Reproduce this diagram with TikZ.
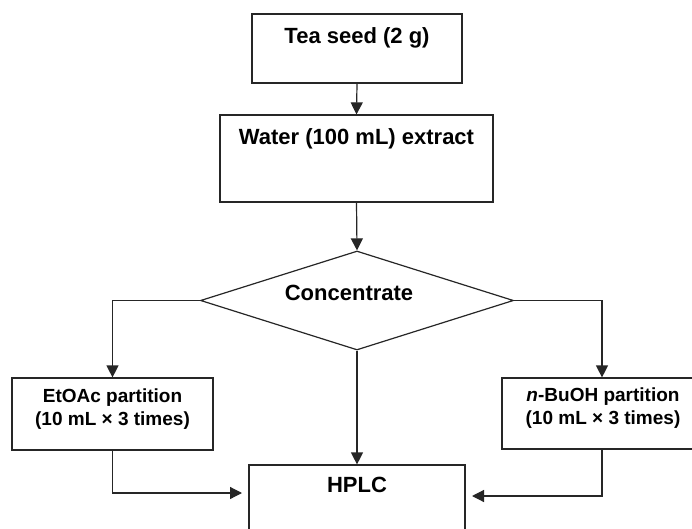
\documentclass[tikz,border=0pt]{standalone}
\usepackage{fontspec}
\setmainfont{Liberation Sans}
\usetikzlibrary{arrows.meta,shapes.geometric}
\begin{document}
\begin{tikzpicture}[x=1pt,y=-1pt,
  line width=1.2pt,
  box/.style={draw=black!85,rectangle,inner sep=0pt},
  lbl/.style={font=\bfseries\fontsize{22}{26}\selectfont,inner sep=0pt,text height=0.73em,text depth=0.21em},
  lblsmall/.style={font=\bfseries\fontsize{19}{23}\selectfont,inner sep=0pt,align=center},
  arr/.style={draw=black!85,-{Triangle[width=12pt,length=12pt]}}]
\clip (0,0) rectangle (692,529);
\fill[white] (0,0) rectangle (692,529);
% boxes
\node[box,minimum width=210pt,minimum height=69pt] (tea) at (357,48.5) {};
\node[lbl] (tealbl) at (357,41) {Tea seed (2 g)};
\node[box,minimum width=273pt,minimum height=87pt] (water) at (356.5,158.5) {};
\node[lbl] (waterlbl) at (356.5,141.5) {Water (100 mL) extract};
\node[diamond,draw=black!85,inner sep=0pt,minimum width=313pt,minimum height=99pt,aspect=3.16] (conc) at (357,300.5) {};
\node[lbl] (conclbl) at (349,297.5) {Concentrate};
\node[box,minimum width=201pt,minimum height=72pt] (eto) at (112.5,414) {};
\node[lblsmall] (etolbl) at (112.5,409.5) {EtOAc partition\\(10 mL × 3 times)};
\node[box,minimum width=200pt,minimum height=71pt] (bu) at (602,413.5) {};
\node[lblsmall] (bulbl) at (603,408) {\textit{n}-BuOH partition\\(10 mL × 3 times)};
\node[box,minimum width=216pt,minimum height=90pt] (hplc) at (357,510) {};
\node[lbl] (hplclbl) at (357,489.5) {HPLC};
\coordinate (hl) at (242,493);
\coordinate (hr) at (472,496);
% connectors
\draw[arr] (tea.south) -- (water.north);
\draw[arr] (water.south) -- (conc.north);
\draw[arr] (conc.west) -| (eto.north);
\draw[arr] (conc.east) -| (bu.north);
\draw[arr] (conc.south) -- (hplc.north);
\draw[arr] (eto.south) |- (hl);
\draw[arr] (bu.south) |- (hr);
\end{tikzpicture}
\end{document}
